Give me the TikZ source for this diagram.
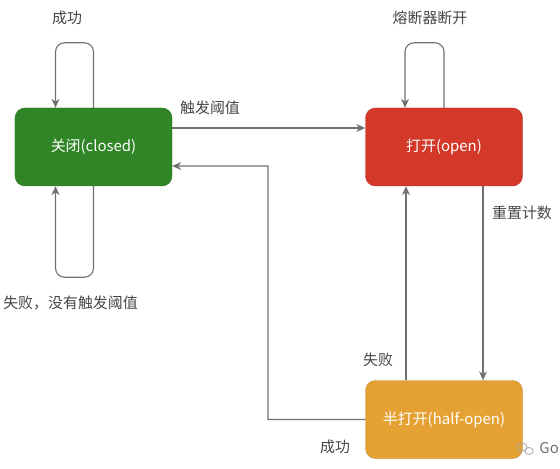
\documentclass[tikz,border=0pt]{standalone}
\usepackage{fontspec}
\setmainfont{Noto Sans CJK SC}
\usetikzlibrary{arrows.meta}
\definecolor{closedgreen}{RGB}{48, 133, 38}
\definecolor{openred}{RGB}{211, 56, 40}
\definecolor{halforange}{RGB}{229, 161, 52}
\definecolor{linegrey}{RGB}{112, 112, 112}
\definecolor{textgrey}{RGB}{70, 70, 70}

\begin{document}
\begin{tikzpicture}[x=1bp,y=-1bp,>={Stealth[length=9bp,width=8bp]},
    state/.style={rounded corners=10bp, minimum width=157bp, minimum height=78bp,
        text=white, font=\fontsize{15}{17}\selectfont},
    flow/.style={->, draw=linegrey, line width=1.1bp},
    lbl/.style={text=textgrey, font=\fontsize{15}{17}\selectfont, inner sep=0pt}]
                \useasboundingbox (0,0) rectangle (560,469);

                % states
                \node[state, fill=closedgreen, draw=closedgreen!85!black] (closed) at (93.5,147) {关闭(closed)};
                \node[state, fill=openred, draw=openred!85!black] (open) at (444,147) {打开(open)};
                \node[state, fill=halforange, draw=halforange!85!black] (half) at (444,419.5) {半打开(half-open)};

                % self loops
                \draw[flow, rounded corners=9bp] (closed.north) -- ++(0,-65) -- ++(-38,0) -- ++(0,65);
                \draw[flow, rounded corners=9bp] (closed.south) -- ++(0,91) -- ++(-38,0) -- ++(0,-91);
                \draw[flow, rounded corners=9bp] (open.north) -- ++(0,-65) -- ++(-39,0) -- ++(0,65);

                % transitions
                \draw[flow] ([yshift=19bp]closed.east) -- ([yshift=19bp]open.west);
                \draw[flow] ([xshift=39bp]open.south) -- ([xshift=39bp]half.north);
                \draw[flow] ([xshift=-38bp]half.north) -- ([xshift=-38bp]open.south);
                \coordinate (back) at (268,166);
                \draw[flow] (half.west) -| (back) -- ([yshift=-19bp]closed.east);

                % labels
                \node[lbl] (succtop) at (67,18) {成功};
                \node[lbl] (trigger) at (210,108) {触发阈值};
                \node[lbl] (fuse) at (430,18) {熔断器断开};
                \node[lbl, anchor=east] (failclosed) at (138,303) {失败，没有触发阈值};
                \node[lbl] (reset) at (522,213) {重置计数};
                \node[lbl] (failhalf) at (378,360) {失败};
                \node[lbl] (succhalf) at (335,447) {成功};

                % watermark
                \draw[linegrey!60, line width=0.8bp] (522,447) ellipse (5 and 4.2);
                \draw[linegrey!60, line width=0.8bp] (529,451) ellipse (4.2 and 3.5);
                \node[lbl, anchor=east, text=linegrey] (mark) at (559,448) {Go};
\end{tikzpicture}
\end{document}
